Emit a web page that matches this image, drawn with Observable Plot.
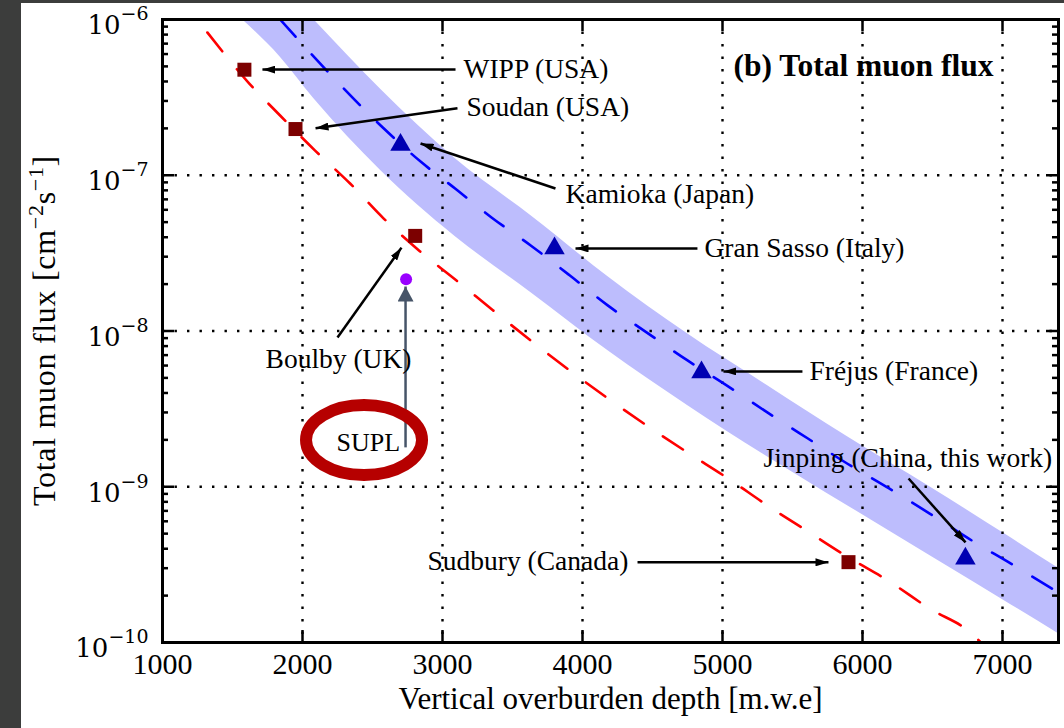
<!DOCTYPE html>
<html><head><meta charset="utf-8">
<script src="https://cdn.jsdelivr.net/npm/d3@7"></script>
<script src="https://cdn.jsdelivr.net/npm/@observablehq/plot@0.6"></script>
<style>
html,body{margin:0;padding:0;background:#3c3d3c;}
#wrap{position:absolute;left:21px;top:3px;width:1043px;height:725px;background:#fff;}
</style></head><body><div id="wrap"></div>
<script>
// ---- data ----
const xTickValues = [1000, 2000, 3000, 4000, 5000, 6000, 7000];
const yTickExponents = [-10, -9, -8, -7, -6];

const squareSites = ["WIPP (USA)", "Soudan (USA)", "Boulby (UK)", "Sudbury (Canada)"];
const squareDepth = [1585, 1950, 2805, 5900];
const squareFlux = [4.76e-7, 1.98e-7, 4.08e-8, 3.28e-10];

const triangleSites = ["Kamioka (Japan)", "Gran Sasso (Italy)", "Fréjus (France)", "Jinping (China, this work)"];
const triangleDepth = [2700, 3800, 4850, 6735];
const triangleFlux = [1.57e-7, 3.39e-8, 5.42e-9, 3.46e-10];

const suplDepth = [2740];
const suplFlux = [2.15e-8];

// red dashed model curve
const redDepth = [1320, 1620, 1840, 2090, 2340, 2580, 2840, 3100, 3360, 3630, 3910, 4460, 4750, 5040, 5320, 5610, 5890, 6190, 6480, 6780, 6845];
const redFlux = [8.26e-7, 3.88e-7, 2.42e-7, 1.44e-7, 8.85e-8, 5.27e-8, 3.24e-8, 2.11e-8, 1.36e-8, 8.69e-9, 5.57e-9, 2.47e-9, 1.66e-9, 1.13e-9, 7.59e-10, 5.16e-10, 3.56e-10, 2.47e-10, 1.65e-10, 1.14e-10, 1.0e-10];

// blue dashed model curve
const blueDepth = [1840, 2060, 2560, 2850, 3090, 3350, 3630, 3910, 4180, 4460, 4750, 5040, 5320, 5610, 5890, 6190, 6480, 6780, 7060, 7400];
const blueFlux = [1.0e-6, 6.05e-7, 2.08e-7, 1.21e-7, 8.22e-8, 5.36e-8, 3.54e-8, 2.27e-8, 1.46e-8, 9.77e-9, 6.47e-9, 4.41e-9, 3.00e-9, 2.04e-9, 1.41e-9, 9.75e-10, 6.73e-10, 4.52e-10, 3.21e-10, 2.09e-10];

// blue uncertainty band
const bandDepth = [1570, 1840, 2080, 2560, 3090, 3630, 4180, 4750, 5320, 5890, 6480, 7060, 7400];
const bandHigh = [3.0e-6, 1.68e-6, 1.0e-6, 3.55e-7, 1.28e-7, 5.52e-8, 2.24e-8, 9.6e-9, 4.47e-9, 2.10e-9, 1.0e-9, 4.7e-10, 3.0e-10];
const bandLow = [1.0e-6, 5.75e-7, 3.11e-7, 1.07e-7, 4.05e-8, 1.77e-8, 7.50e-9, 3.33e-9, 1.56e-9, 7.59e-10, 3.62e-10, 1.75e-10, 1.14e-10];

// annotations (anchor points in data units)
const labelText = ["WIPP (USA)", "Soudan (USA)", "Kamioka (Japan)", "Gran Sasso (Italy)", "Fréjus (France)", "Jinping (China, this work)", "Sudbury (Canada)", "Boulby (UK)"];
const labelDepth = [3150, 3171, 3879, 4871, 5621, 5293, 2893, 1736];
const labelFlux = [4.82e-7, 2.75e-7, 7.59e-8, 3.42e-8, 5.55e-9, 1.53e-9, 3.31e-10, 6.62e-9];

const arrowTailDepth = [3093, 3107, 3807, 4821, 5571, 6329, 4393, 2250];
const arrowTailFlux = [4.77e-7, 2.69e-7, 8.22e-8, 3.39e-8, 5.50e-9, 1.13e-9, 3.27e-10, 9.08e-9];
const arrowHeadDepth = [1714, 2093, 2843, 3950, 5007, 6736, 5757, 2707];
const arrowHeadFlux = [4.77e-7, 2.0e-7, 1.60e-7, 3.39e-8, 5.50e-9, 4.39e-10, 3.27e-10, 3.43e-8];

const suplLabel = "SUPL";
const suplLabelDepth = 2243, suplLabelFlux = 1.93e-9;
const suplRingDepth = 2443, suplRingFlux = 1.98e-9;
const suplArrow = {x1: 2736, y1: 1.79e-9, x2: 2736, y2: 1.93e-8};

const titleText = "(b) Total muon flux";
const titleDepth = 5079, titleFlux = 5.03e-7;

// ---- build tables ----
const squares = squareSites.map((s, i) => ({s, d: squareDepth[i], f: squareFlux[i]}));
const triangles = triangleSites.map((s, i) => ({s, d: triangleDepth[i], f: triangleFlux[i]}));
const supl = suplDepth.map((d, i) => ({d, f: suplFlux[i]}));
const red = redDepth.map((d, i) => ({d, f: redFlux[i]}));
const blue = blueDepth.map((d, i) => ({d, f: blueFlux[i]}));
const band = bandDepth.map((d, i) => ({d, lo: bandLow[i], hi: bandHigh[i]}));
const labels = labelText.map((t, i) => ({t, d: labelDepth[i], f: labelFlux[i]}));
const arrows = arrowTailDepth.map((d, i) => ({x1: d, y1: arrowTailFlux[i], x2: arrowHeadDepth[i], y2: arrowHeadFlux[i]}));
const yMajor = yTickExponents.map(e => Math.pow(10, e));
const yMinor = yTickExponents.slice(0, -1).flatMap(e => [2,3,4,5,6,7,8,9].map(k => k * Math.pow(10, e)));

const W = 1043, H = 725, mL = 141, mR = 6, mT = 16, mB = 86;
const pw = W - mL - mR, ph = H - mT - mB;
const serif = "'Liberation Serif', 'Times New Roman', serif";
const dot = {stroke: "black", strokeWidth: 2.4, strokeDasharray: "2.4,10.1"};

const chart = Plot.plot({
  width: W, height: H,
  marginLeft: mL, marginRight: mR, marginTop: mT, marginBottom: mB,
  x: {domain: [1000, 7400], axis: null},
  y: {type: "log", domain: [1e-10, 1e-6], axis: null},
  style: {fontFamily: serif, background: "white", color: "black", overflow: "visible"},
  marks: [
    Plot.areaY(band, {x: "d", y1: "lo", y2: "hi", fill: "#bdbdfd", curve: "monotone-x", clip: true}),
    Plot.ruleX(xTickValues.slice(1), dot),
    Plot.ruleY(yMajor.slice(1, -1), dot),
    Plot.line(red, {x: "d", y: "f", stroke: "#ff0000", strokeWidth: 2.6, strokeDasharray: "24,23", curve: "monotone-x", clip: true}),
    Plot.line(blue, {x: "d", y: "f", stroke: "#0000ff", strokeWidth: 2.6, strokeDasharray: "23,24", curve: "monotone-x", clip: true}),
    Plot.dot(squares, {x: "d", y: "f", symbol: "square", r: 7.9, fill: "#7c0000"}),
    Plot.dot(triangles, {x: "d", y: "f", symbol: "triangle", r: 7.6, fill: "#0000b2"}),
    Plot.dot(supl, {x: "d", y: "f", r: 6, fill: "#9900ff"}),
    Plot.frame({stroke: "black", strokeWidth: 3}),
    // ticks (inside)
    Plot.tickX(xTickValues, {x: d => d, insetTop: ph - 12, stroke: "black", strokeWidth: 2.5}),
    Plot.tickX(xTickValues, {x: d => d, insetBottom: ph - 12, stroke: "black", strokeWidth: 2.5}),
    Plot.tickY(yMajor, {y: d => d, insetRight: pw - 12, stroke: "black", strokeWidth: 2.5}),
    Plot.tickY(yMinor, {y: d => d, insetRight: pw - 6, stroke: "black", strokeWidth: 2.5}),
    Plot.tickY(yMajor, {y: d => d, insetLeft: pw - 12, stroke: "black", strokeWidth: 2.5}),
    Plot.tickY(yMinor, {y: d => d, insetLeft: pw - 6, stroke: "black", strokeWidth: 2.5}),
    // tick labels
    Plot.text(xTickValues, {x: d => d, frameAnchor: "bottom", dy: 31.4, text: d => String(d), fontSize: 30, fill: "black"}),
    Plot.text(yMajor, {y: d => d, frameAnchor: "left", dx: -14, dy: 6.5, textAnchor: "end",
      text: d => "\u2212" + Math.abs(Math.round(Math.log10(d))), fontSize: 26, fontFamily: "'DejaVu Serif', serif", fill: "black"}),
    Plot.text(["Vertical overburden depth [m.w.e]"], {frameAnchor: "bottom", dy: 66, fontSize: 31, fill: "black"}),
    // annotations
    Plot.link(arrows, {x1: "x1", y1: "y1", x2: "x2", y2: "y2", stroke: "black", strokeWidth: 2.51}),
    Plot.link([suplArrow], {x1: "x1", y1: "y1", x2: "x2", y2: "y2", stroke: "#465468", strokeWidth: 2.49}),
    Plot.text(labels, {x: "d", y: "f", text: "t", textAnchor: "start", fontSize: 27.5, fill: "black"}),
    Plot.text([suplLabel], {x: () => suplLabelDepth, y: () => suplLabelFlux, textAnchor: "start", fontSize: 26, fill: "black"}),
    Plot.text([titleText], {x: () => titleDepth, y: () => titleFlux, textAnchor: "start", fontSize: 31.5, fontWeight: "bold", fill: "black"})
  ]
});

const svg = d3.select(chart);
// superscript exponents on y tick labels
svg.selectAll("text").filter(function() { return /^\u2212\d+$/.test(this.textContent); }).each(function() {
  const e = this.textContent;
  const t = d3.select(this);
  t.text(null);
  t.append("tspan").text("10");
  t.append("tspan").attr("dy", -14).attr("font-size", 19).text(e);
});
// arrowheads
const defs = svg.append("defs");
function marker(id, color, len, wid) {
  defs.append("marker").attr("id", id).attr("markerUnits", "userSpaceOnUse")
    .attr("markerWidth", len).attr("markerHeight", wid)
    .attr("viewBox", `0 ${-wid/2} ${len} ${wid}`).attr("refX", len).attr("refY", 0).attr("orient", "auto")
    .append("path").attr("d", `M0,${-wid/2}L${len},0L0,${wid/2}Z`).attr("fill", color);
}
marker("ahBlack", "black", 13, 8);
marker("ahGray", "#465468", 15, 16);
svg.selectAll('g[stroke-width="2.51"] path').attr("marker-end", "url(#ahBlack)");
svg.selectAll('g[stroke-width="2.49"] path').attr("marker-end", "url(#ahGray)");
// SUPL ring
const xs = chart.scale("x"), ys = chart.scale("y");
svg.append("ellipse").attr("cx", xs.apply(suplRingDepth)).attr("cy", ys.apply(suplRingFlux))
  .attr("rx", 58).attr("ry", 35).attr("fill", "none").attr("stroke", "#b60000").attr("stroke-width", 12);
// y axis title with superscripts
const yl = svg.append("text").attr("transform", `translate(34,${mT + ph/2}) rotate(-90)`)
  .attr("text-anchor", "middle").attr("font-size", 32).attr("letter-spacing", 0.7).attr("fill", "black").attr("font-family", serif);
yl.append("tspan").text("Total muon flux [cm");
yl.append("tspan").attr("dy", -12).attr("font-size", 22).text("\u22122");
yl.append("tspan").attr("dy", 12).text("s");
yl.append("tspan").attr("dy", -12).attr("font-size", 22).text("\u22121");
yl.append("tspan").attr("dy", 12).text("]");

document.getElementById("wrap").appendChild(chart);
</script>
</body></html>
